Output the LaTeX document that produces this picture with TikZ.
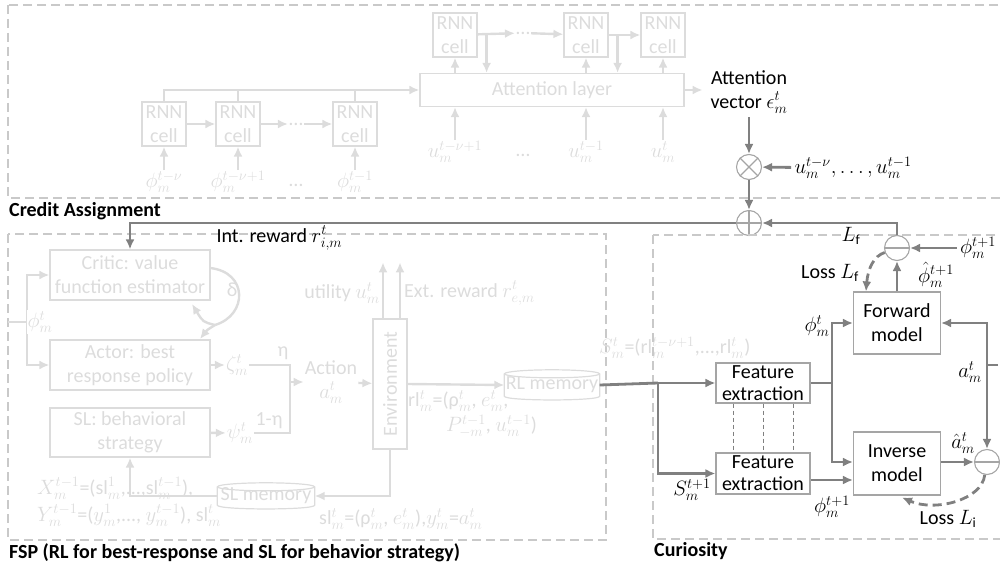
\documentclass[tikz,border=0pt]{standalone}
\usepackage{fontspec}
\setmainfont{Carlito}
\usetikzlibrary{arrows.meta,positioning,calc}
\definecolor{cafade}{HTML}{DCDCDC}
\definecolor{cadark}{HTML}{808080}
\definecolor{caedge}{HTML}{A5A5A5}
\definecolor{caregion}{HTML}{C9C9C9}

\begin{document}
\begin{tikzpicture}[x=1pt, y=-1pt,
    font=\fontsize{20}{24}\selectfont,
    >={Latex[length=10pt,width=9pt]},
    fbox/.style={draw=cafade, line width=1.2pt, text=cafade, align=center, inner sep=0pt},
    fcell/.style={fbox, minimum width=44pt, minimum height=44pt},
    ftxt/.style={text=cafade, inner sep=1pt},
    fline/.style={draw=cafade, line width=2.4pt},
    farr/.style={fline, ->},
    fdrum/.style={draw=cafade, line width=1.2pt},
    cbox/.style={draw=caedge, line width=1.1pt, align=center, inner sep=0pt, minimum width=87pt},
    dline/.style={draw=cadark, line width=2.8pt},
    darr/.style={dline, ->},
    op/.style={circle, draw=caedge, line width=1.1pt, minimum size=25pt, inner sep=0pt},
    opline/.style={draw=caedge, line width=1.1pt},
    loss/.style={->, draw=cadark, line width=2.8pt, dash pattern=on 9pt off 5pt},
    tie/.style={draw=cadark, line width=1pt, dash pattern=on 4pt off 3pt},
    region/.style={draw=caregion, line width=2.2pt, dash pattern=on 9pt off 5pt},
    regionlab/.style={font=\fontsize{20}{24}\selectfont\bfseries, anchor=west, inner sep=0pt}
  ]
  \useasboundingbox (0,0) rectangle (1000,567);

  % credit assignment
  \draw[region] (8,5) rectangle (1010,198);
  \node[regionlab] (calab) at (9,211) {Credit Assignment};

  \node[fcell] (rnn1) at (164,124) {RNN\\cell};
  \node[fcell] (rnn2) at (238,124) {RNN\\cell};
  \node[ftxt] (dotsa) at (296,124) {\dots};
  \node[fcell] (rnn3) at (355,124) {RNN\\cell};
  \node[ftxt] (phi1) at (164,182) {$\phi_m^{t-\nu}$};
  \node[ftxt] (phi2) at (238,182) {$\phi_m^{t-\nu+1}$};
  \node[ftxt] (dotsc) at (296,185) {\dots};
  \node[ftxt] (phi3) at (355,182) {$\phi_m^{t-1}$};
  \node[fbox, minimum width=264pt, minimum height=33pt] (att) at (552,90) {Attention layer};
  \node[fcell] (rnnA) at (455,35) {RNN\\cell};
  \node[ftxt] (dotsb) at (523,33) {\dots};
  \node[fcell] (rnnB) at (586,35) {RNN\\cell};
  \node[fcell] (rnnC) at (663,35) {RNN\\cell};
  \node[ftxt] (u1) at (455,152) {$u_m^{t-\nu+1}$};
  \node[ftxt] (dotsd) at (523,155) {\dots};
  \node[ftxt] (u2) at (586,152) {$u_m^{t-1}$};
  \node[ftxt] (u3) at (663,152) {$u_m^{t}$};

  \draw[farr] (phi1) -- (rnn1);
  \draw[farr] (phi2) -- (rnn2);
  \draw[farr] (phi3) -- (rnn3);
  \draw[farr] (rnn1) -- (rnn2);
  \draw[farr] (rnn2) -- (dotsa);
  \draw[farr] (dotsa) -- (rnn3);
  \draw[farr] (rnn1.north) |- (att.west);
  \draw[fline] (rnn2.north) -- (rnn2.north |- att.west);
  \draw[fline] (rnn3.north) -- (rnn3.north |- att.west);
  \draw[farr] (att.north -| rnnA) -- (rnnA);
  \draw[farr] (att.north -| rnnB) -- (rnnB);
  \draw[farr] (att.north -| rnnC) -- (rnnC);
  \draw[farr] (rnnA) -- (dotsb);
  \draw[farr] (dotsb) -- (rnnB);
  \draw[farr] (rnnB) -- (rnnC);
  \coordinate (tapA) at ($(rnnA.east)+(9,0)$);
  \coordinate (tapB) at ($(rnnB.east)+(9,0)$);
  \draw[farr] (tapA) -- (tapA |- att.north);
  \draw[farr] (tapB) -- (tapB |- att.north);
  \foreach \u in {u1,u2,u3}
    \draw[farr] (\u) -- (\u |- att.south);
  \coordinate (attout) at ($(att.east)+(18,0)$);
  \draw[farr] (att.east) -- (attout);

  \node[align=center] (attvec) at (749,92) {Attention\\vector $\epsilon_m^t$};
  \node[op] (mul) at (749,167) {};
  \draw[opline] (mul.45) -- (mul.225) (mul.135) -- (mul.315);
  \node[op] (add) at (749,223) {};
  \draw[opline] (add.north) -- (add.south) (add.west) -- (add.east);
  \node[anchor=west] (uprev) at (791,168) {$u_m^{t-\nu},\dots,u_m^{t-1}$};
  \draw[darr] (attvec) -- (mul);
  \draw[darr] (uprev) -- (mul);
  \draw[darr] (mul) -- (add);

  % FSP
  \draw[region] (8,234) rectangle (606,540);
  \node[regionlab] (fsplab) at (9,553) {FSP (RL for best-response and SL for behavior strategy)};

  \node[fbox, minimum width=160pt, minimum height=50pt] (critic) at (130,275) {Critic: value\\function estimator};
  \node[fbox, minimum width=160pt, minimum height=50pt] (actor) at (130,365) {Actor: best\\response policy};
  \node[fbox, minimum width=160pt, minimum height=49pt] (slbox) at (130,432.5) {SL: behavioral\\strategy};
  \draw[darr] (add) -| (critic.north);
  \node[anchor=west] (intrew) at (213,238) {Int. reward $r_{i,m}^t$};

  \coordinate (phisrc) at (8,322);
  \coordinate (fork) at (27,322);
  \draw[farr] (fork) |- (critic);
  \draw[farr] (fork) |- (actor);
  \draw[fline] (phisrc) -- (fork);
  \node[ftxt, fill=white] (phiin) at (40,322) {$\phi_m^t$};

  \coordinate (dstart) at (210,268);
  \coordinate (dmid) at (215,325);
  \draw[fline] (dstart) .. controls (248,272) and (248,315) .. (dmid);
  \draw[farr] (dmid) .. controls (203,322) .. (192,304);
  \draw[farr] (dmid) .. controls (207,330) .. (200,339);
  \node[ftxt] (delta) at (232,290) {δ};

  \node[ftxt] (zeta) at (237,365) {$\zeta_m^t$};
  \node[ftxt] (psi) at (240,433) {$\psi_m^t$};
  \draw[farr] (actor) -- (zeta);
  \draw[farr] (slbox) -- (psi);
  \coordinate (mix) at (290,382);
  \draw[fline] (zeta.east) -| (mix);
  \draw[fline] (psi.east) -| (mix);
  \node[ftxt] (eta) at (283,353) {η};
  \node[ftxt] (oneeta) at (269,421) {1-η};
  \node[ftxt, align=center] (action) at (331,382) {Action\\$a_m^t$};
  \draw[farr] (mix) -- (action);

  \node[fbox, minimum width=34pt, minimum height=130pt] (env) at (390,384) {\rotatebox{90}{Environment}};
  \draw[farr] (action) -- (env);
  \coordinate (utilout) at ($(env.north)+(-7,-56)$);
  \coordinate (extout) at ($(env.north)+(10,-56)$);
  \draw[farr] (env.north -| utilout) -- (utilout);
  \draw[farr] (env.north -| extout) -- (extout);
  \node[ftxt, anchor=east] (utility) at (381,293) {utility $u_m^t$};
  \node[ftxt, anchor=west] (extrew) at (403,293) {Ext. reward $r_{e,m}^t$};

  \node[ftxt, minimum width=95pt, minimum height=22pt, inner sep=0pt] (rlmem) at (552,385) {RL memory};
  \draw[fdrum] (rlmem.north west) -- (rlmem.south west)
    .. controls ($(rlmem.south west)+(0,5)$) and ($(rlmem.south east)+(0,5)$) .. (rlmem.south east)
    -- (rlmem.north east);
  \draw[fdrum] (rlmem.north) ellipse [x radius=47.5, y radius=4];
  \draw[farr] (env.east) -- (rlmem.west);
  \node[ftxt, align=left, anchor=north west] (rltxt) at (407,389)
    {rl$_m^t$=(ρ$_m^t$, $e_m^t$,\\[1pt]\hspace*{38pt}$P_{-m}^{t-1}$, $u_m^{t-1}$)};
  \node[ftxt, anchor=west] (stxt) at (598,348) {$S_m^t$=(rl$_m^{t-\nu+1}$,...,rl$_m^t$)};

  \node[ftxt, minimum width=97pt, minimum height=18pt, inner sep=0pt] (slmem) at (266,496) {SL memory};
  \draw[fdrum] (slmem.north west) -- (slmem.south west)
    .. controls ($(slmem.south west)+(0,5)$) and ($(slmem.south east)+(0,5)$) .. (slmem.south east)
    -- (slmem.north east);
  \draw[fdrum] (slmem.north) ellipse [x radius=48.5, y radius=4];
  \draw[farr] (env.south) |- (slmem.east);
  \draw[farr] (slmem.west) -| (slbox.south);
  \node[ftxt, anchor=west] (sltxt) at (318,519) {sl$_m^t$=(ρ$_m^t$, $e_m^t$),$y_m^t$=$a_m^t$};
  \node[ftxt, align=left, anchor=west] (xytxt) at (36,502)
    {$X_m^{t-1}$=(sl$_m^1$,...,sl$_m^{t-1}$),\\[3pt]$Y_m^{t-1}$=($y_m^1$,..., $y_m^{t-1}$), sl$_m^t$};

  % curiosity
  \draw[region] (653,235) rectangle (1010,539);
  \node[regionlab] (curlab) at (654,551) {Curiosity};

  \node[cbox, minimum height=62pt] (fwd) at (897,323) {Forward\\model};
  \node[cbox, minimum height=63pt] (inv) at (897,463.5) {Inverse\\model};
  \node[cbox, minimum width=94pt, minimum height=40pt] (feat1) at (763,383) {Feature\\[-2pt]extraction};
  \node[cbox, minimum width=94pt, minimum height=41pt] (feat2) at (763,473.5) {Feature\\[-2pt]extraction};
  \node[op] (sub1) at (897,248) {};
  \draw[opline] (sub1.west) -- (sub1.east);
  \node[op] (sub2) at (987,462) {};
  \draw[opline] (sub2.west) -- (sub2.east);

  \node (phinext) at (978,248) {$\phi_m^{t+1}$};
  \draw[darr] (fwd) -- (sub1);
  \draw[darr] (phinext) -- (sub1);
  \draw[darr] (sub1) |- (add);
  \node (lf) at (851,236) {$L_\mathrm{f}$};
  \draw[loss] (sub1.200) .. controls (874,256) and (868,268) .. ($(fwd.north west)+(13,0)$);
  \node (lossf) at (830,273) {Loss $L_\mathrm{f}$};
  \node[inner sep=0pt] (phihat) at (936,275) {$\hat\phi_m^{t+1}$};

  \coordinate (split) at (658,383);
  \draw[dline] (rlmem.east) -- (split);
  \draw[darr] (split) -- (feat1);
  \draw[darr] (split) |- (feat2);
  \coordinate (jn) at (832,383);
  \draw[dline] (feat1) -- (jn);
  \draw[darr] (jn) |- (fwd);
  \draw[darr] (jn) |- ($(inv.west)+(0,-1.5)$);
  \draw[darr] ($(feat2.east)+(0,6.5)$) -- ($(inv.west)+(0,16.5)$);
  \foreach \dx in {-30,0,30}
    \draw[tie] ($(feat1.south)+(\dx,0)$) -- ($(feat2.north)+(\dx,0)$);
  \node (phit) at (817,326) {$\phi_m^t$};
  \node (snext) at (692,490) {$S_m^{t+1}$};
  \node (phitn) at (832,507) {$\phi_m^{t+1}$};

  \draw[dline, <->] (sub2) |- (fwd);
  \coordinate (ain) at (998,365);
  \draw[dline] (ain) -- (ain -| sub2);
  \node (amt) at (970,372) {$a_m^t$};
  \draw[darr] ($(inv.east)+(0,-1.5)$) -- (sub2);
  \node (ahat) at (963,443) {$\hat a_m^t$};
  \draw[loss] (sub2.260) .. controls (982,500) and (935,512) .. ($(inv.south)+(5,2)$);
  \node (lossi) at (948,519) {Loss $L_\mathrm{i}$};
\end{tikzpicture}
\end{document}
